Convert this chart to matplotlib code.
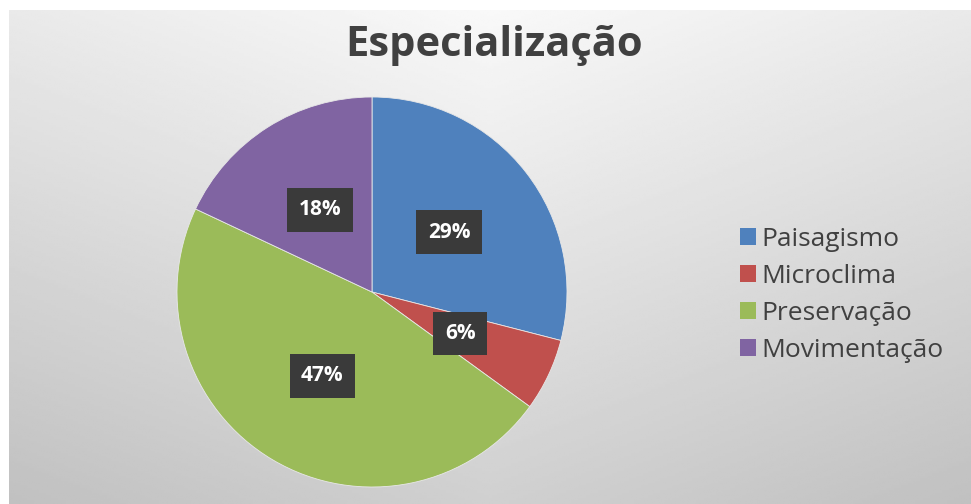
import numpy as np
import matplotlib.pyplot as plt

# chart data
categories = ['Paisagismo', 'Microclima', 'Preservação', 'Movimentação']
shares = [29, 6, 47, 18]
colors = ['#4F81BD', '#C0504D', '#9BBB59', '#8064A2']
title = 'Especialização'

W, H = 971, 504
fig = plt.figure(figsize=(W/100, H/100), dpi=100)
fig.patch.set_facecolor('white')

# gray gradient background (chart area)
bg = fig.add_axes([9/W, 0, 1-9/W, 1-10/H])
gx, gy = np.meshgrid(np.linspace(0, 1, 400), np.linspace(1, 0, 200))
shade = 0.975 - 0.16*(1-gy) - 0.06*np.abs(2*gx-1)
bg.imshow(shade, cmap='gray', vmin=0, vmax=1, aspect='auto', extent=[0, 1, 0, 1])
bg.axis('off')

# pie, centre (372, 292) px, radius 195 px
cx, cy, r = 372, 292, 195
ax = fig.add_axes([(cx-r)/W, (H-cy-r)/H, 2*r/W, 2*r/H])
wedges, texts, autotexts = ax.pie(
    shares, colors=colors, startangle=90, counterclock=False,
    autopct='%d%%', pctdistance=0.5, radius=1,
    wedgeprops=dict(edgecolor='#e8e8e8', linewidth=0.6))
for t in autotexts:
    t.set_color('white')
    t.set_fontsize(15)
    t.set_fontweight('bold')
    t.set_fontfamily('Open Sans')
    t.set_bbox(dict(boxstyle='square,pad=0.55', facecolor='#3a3a3a', edgecolor='none'))
ax.set_xlim(-1, 1)
ax.set_ylim(-1, 1)
ax.set_aspect('auto')
ax.axis('off')

fig.text(0.5 + 9/W, 1-46/H, title, ha='center', va='center', fontsize=30,
         fontweight='bold', family='Open Sans', color='#404040')

leg = fig.legend(wedges, categories, loc='center left', bbox_to_anchor=(716/W, 1-295/H),
                 frameon=False, handlelength=0.62, handleheight=0.62, handletextpad=0.2,
                 labelspacing=0.45, prop={'family': 'Open Sans', 'size': 19})
for t in leg.get_texts():
    t.set_color('#404040')
for h in leg.legend_handles:
    h.set_edgecolor('none')

fig.savefig('out.png', dpi=100)
